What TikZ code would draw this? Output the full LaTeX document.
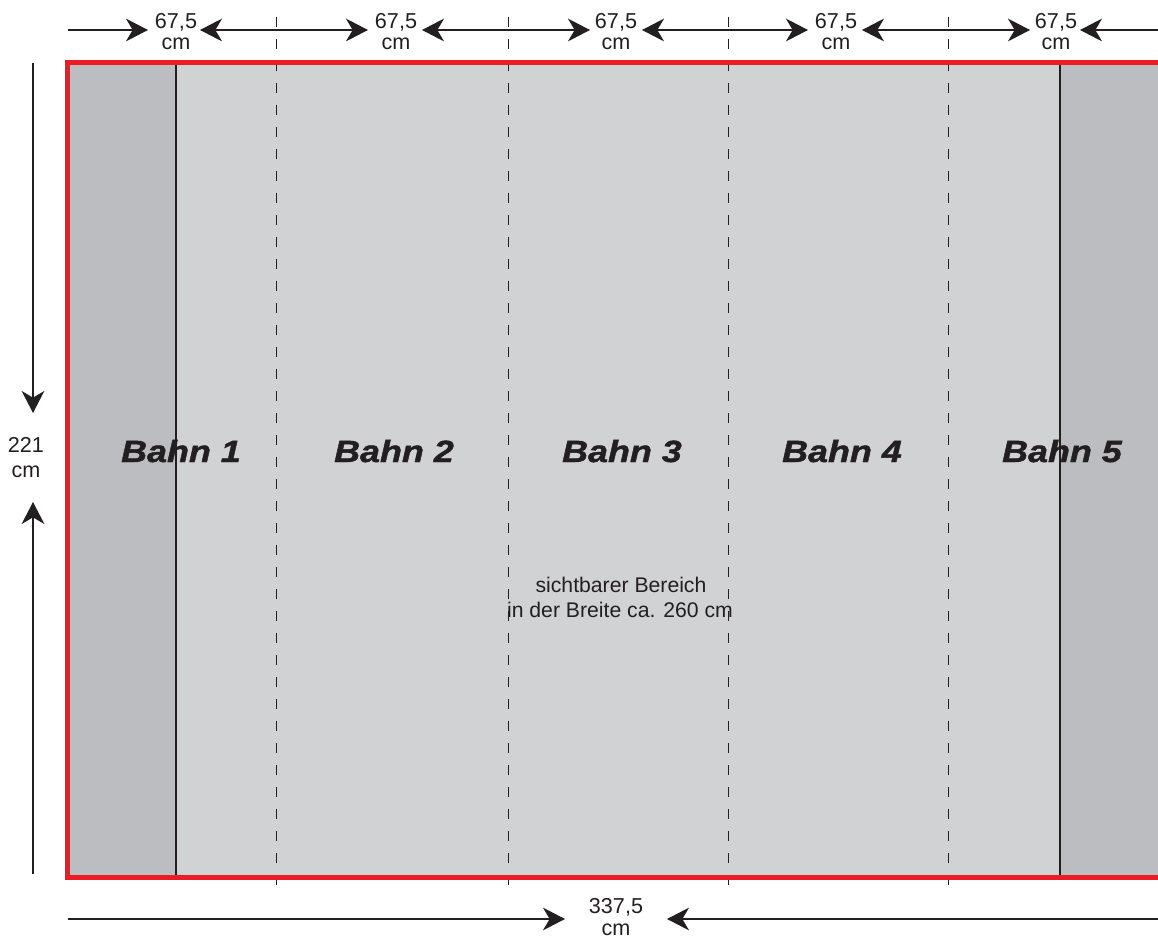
\documentclass[tikz,border=0pt]{standalone}
\usepackage{fontspec}
\setmainfont{Liberation Sans}
\newfontfamily\bahnfont[FakeStretch=1.17,BoldItalicFeatures={FakeBold=1.5}]{Liberation Sans}
\usetikzlibrary{arrows.meta}
\definecolor{lgray}{HTML}{D1D2D4}
\definecolor{dgray}{HTML}{BCBDC0}
\definecolor{redb}{HTML}{ED1C24}
\definecolor{ink}{HTML}{231F20}
\begin{document}
\begin{tikzpicture}[x=0.75pt,y=-0.75pt,
  dimtext/.style={font=\fontsize{16.2}{19}\selectfont, text=ink, inner sep=0pt, anchor=base},
  bahntext/.style={font=\bahnfont\fontsize{23}{26}\selectfont\bfseries\itshape, text=ink, inner sep=0pt, anchor=base},
  notetext/.style={font=\fontsize{15.9}{19}\selectfont, text=ink, inner sep=0pt, anchor=base},
  dimline/.style={draw=ink, line width=1.6pt},
  onearrow/.style={dimline, -{Stealth[length=16.5pt,width=17pt,inset=5pt]}},
  twoarrow/.style={dimline, {Stealth[length=16.5pt,width=17pt,inset=5pt]}-{Stealth[length=16.5pt,width=17pt,inset=5pt]}},
  seam/.style={draw=ink, line width=1.5pt},
  fold/.style={draw=ink, line width=0.75pt, dash pattern=on 7.5pt off 9pt},
  frame/.style={draw=redb, line width=3.75pt}
]
\useasboundingbox (0,0) rectangle (1158,938);
\clip (0,0) rectangle (1158,938);

% wall area
\fill[lgray] (67.5,63) rectangle (1170,877.5);
\fill[dgray] (67.5,63) rectangle (176,877.5);
\fill[dgray] (1060,63) rectangle (1170,877.5);

% seams
\coordinate (s1t) at (176,63);   \coordinate (s1b) at (176,877);
\coordinate (s2t) at (1060,63);  \coordinate (s2b) at (1060,877);
\draw[seam] (s1t) -- (s1b);
\draw[seam] (s2t) -- (s2b);

% fold (dashed) lines
\foreach \x [count=\i] in {276,508,728,948} {
  \coordinate (f\i t) at (\x,17);
  \coordinate (f\i b) at (\x,885);
  \draw[fold] (f\i t) -- (f\i b);
}

% red frame
\coordinate (r1) at (1175,63);
\coordinate (r2) at (67.5,63);
\coordinate (r3) at (67.5,877.5);
\coordinate (r4) at (1175,877.5);
\draw[frame, line join=miter] (r1) -- (r2) -- (r3) -- (r4);

% top dimension arrows
\coordinate (a0) at (68,30);   \coordinate (b0) at (148,30);
\coordinate (a1) at (200,30);  \coordinate (b1) at (368,30);
\coordinate (a2) at (422,30);  \coordinate (b2) at (590,30);
\coordinate (a3) at (642,30);  \coordinate (b3) at (808,30);
\coordinate (a4) at (862,30);  \coordinate (b4) at (1030,30);
\coordinate (a5) at (1080,30); \coordinate (b5) at (1170,30);
\draw[onearrow] (a0) -- (b0);
\draw[twoarrow] (a1) -- (b1);
\draw[twoarrow] (a2) -- (b2);
\draw[twoarrow] (a3) -- (b3);
\draw[twoarrow] (a4) -- (b4);
\draw[onearrow] (b5) -- (a5);
\foreach \x [count=\i] in {176,396,616,836,1056} {
  \node[dimtext] (w\i) at (\x,29) {67,5};
  \node[dimtext] (u\i) at (\x,50) {cm};
}

% left height arrows
\coordinate (h0) at (33,63);  \coordinate (h1) at (33,413);
\coordinate (h2) at (33,874); \coordinate (h3) at (33,502);
\draw[onearrow] (h0) -- (h1);
\draw[onearrow] (h2) -- (h3);
\node[dimtext] (hv) at (26,452) {221};
\node[dimtext] (hu) at (26,477) {cm};

% bottom width arrows
\coordinate (g0) at (68,919);   \coordinate (g1) at (565,919);
\coordinate (g2) at (1170,919); \coordinate (g3) at (667,919);
\draw[onearrow] (g0) -- (g1);
\draw[onearrow] (g2) -- (g3);
\node[dimtext] (tv) at (616,913) {337,5};
\node[dimtext] (tu) at (616,935) {cm};

% strip labels
\node[bahntext] (n1) at (181,462) {Bahn 1};
\node[bahntext] (n2) at (394,462) {Bahn 2};
\node[bahntext] (n3) at (622,462) {Bahn 3};
\node[bahntext] (n4) at (842,462) {Bahn 4};
\node[bahntext] (n5) at (1062,462) {Bahn 5};

% note
\node[notetext] (v1) at (621,592) {sichtbarer Bereich};
\node[notetext] (v2) at (620,617) {in der Breite ca. 260 cm};
\end{tikzpicture}
\end{document}
